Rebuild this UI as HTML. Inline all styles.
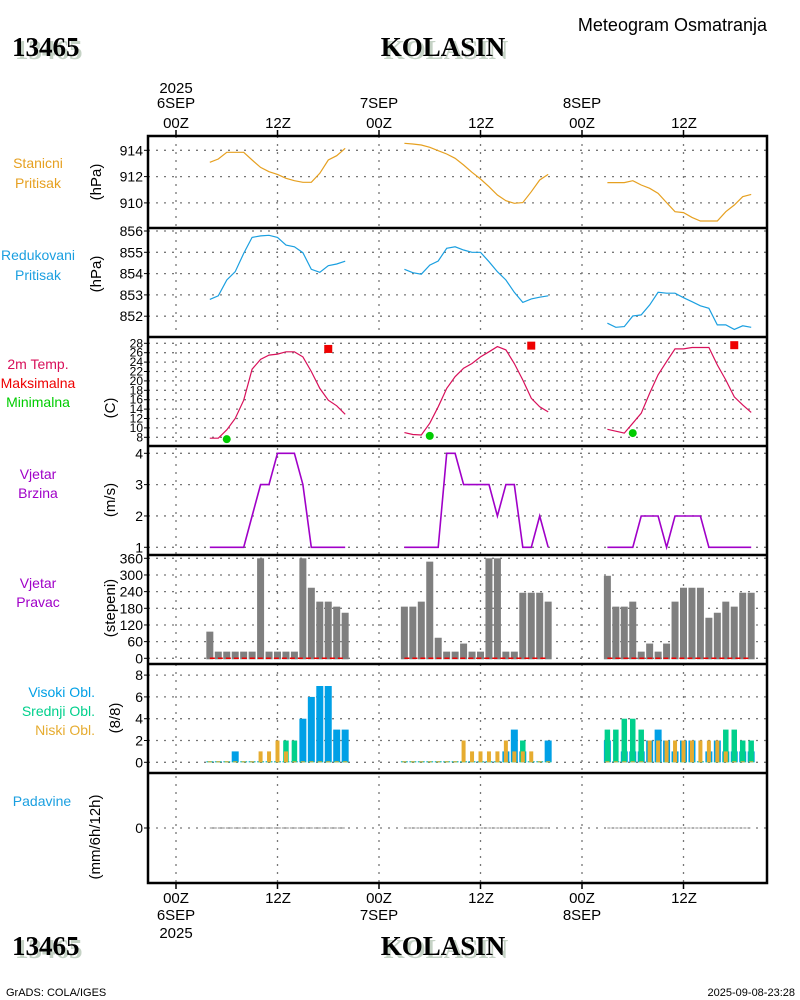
<!DOCTYPE html>
<html><head><meta charset="utf-8"><style>
body{margin:0;background:#fff;}
svg{display:block;font-family:"Liberation Sans",sans-serif;}
</style></head><body>
<svg id="c" width="800" height="1000" viewBox="0 0 800 1000" xmlns="http://www.w3.org/2000/svg">
<rect x="0" y="0" width="800" height="1000" fill="#fff"/>
<g id="g"></g>
</svg>
<script>
// ---- data (hours since 6SEP 00Z) ----
const dayHours = [[4,20],[27,44],[51,68]];
const presSt = [
 [913.09,913.34,913.85,913.85,913.85,913.26,912.70,912.37,912.17,911.87,911.69,911.57,911.57,912.25,913.26,913.59,914.15],
 [914.53,914.48,914.40,914.23,913.97,913.72,913.39,912.88,912.33,911.82,911.23,910.60,910.17,909.97,910.02,910.85,911.74,912.17],
 [911.54,911.54,911.54,911.69,911.36,911.11,910.73,910.02,909.33,909.26,908.90,908.62,908.62,908.62,909.33,909.84,910.47,910.65]];
const presRed = [
 [852.79,852.96,853.70,854.09,854.95,855.70,855.77,855.80,855.70,855.34,855.26,854.98,854.20,854.06,854.37,854.45,854.58],
 [854.20,854.04,853.97,854.40,854.59,855.19,855.26,855.11,855.00,855.00,854.56,854.09,853.70,853.12,852.65,852.81,852.89,852.96],
 [851.67,851.48,851.51,852.01,852.06,852.53,853.12,853.08,853.08,852.87,852.68,852.49,852.37,851.59,851.59,851.38,851.55,851.48]];
const temp = [
 [7.8,7.8,9.6,12.0,15.9,22.5,24.6,25.5,25.7,26.2,26.2,25.1,22.0,18.4,15.9,14.7,12.9],
 [9.0,8.6,8.5,11.0,14.5,18.4,20.9,22.7,23.7,25.1,26.2,27.3,26.6,23.7,20.2,16.3,14.5,13.4],
 [9.7,9.3,8.9,11.0,13.1,17.4,21.3,24.1,26.8,26.8,27.1,27.1,27.1,23.4,20.2,16.6,14.9,13.3]];
const tMaxHours = [18,42,66];
const tMaxVals = [26.8,27.5,27.6];
const tMinHours = [6,30,54];
const tMinVals = [7.6,8.3,8.9];
const windSpd = [
 [1,1,1,1,1,2,3,3,4,4,4,3,1,1,1,1,1],
 [1,1,1,1,1,4,4,3,3,3,3,2,3,3,1,1,2,1],
 [1,1,1,1,2,2,2,1,2,2,2,2,1,1,1,1,1,1]];
const windDir = [
 [96,24,24,24,24,24,360,24,24,24,24,360,254,204,204,186,164],
 [186,186,204,348,74,24,24,53,24,24,360,360,24,24,236,236,236,204],
 [297,186,186,204,24,53,24,53,204,254,254,254,146,164,204,186,236,236]];
const cloudHi = [
 [0,0,0,1,0,0,0,0,0,0,0,4,6,7,7,3,3],
 [0,0,0,0,0,0,0,0,0,0,0,0,1,3,1,0,0,2],
 [2,0,1,1,1,2,3,2,1,2,2,0,1,2,1,1,1,1]];
const cloudMid = [
 [0,0,0,0,0,0,0,0,0,2,2,0,0,0,0,0,0],
 [0,0,0,0,0,0,0,0,0,0,0,0,0,0,2,0,0,0],
 [3,3,4,4,3,0,0,0,0,0,0,0,0,0,3,3,2,2]];
const cloudLow = [
 [0,0,0,0,0,0,1,1,2,1,0,0,0,0,0,0,0],
 [0,0,0,0,0,0,0,2,1,1,1,1,2,1,1,1,0,0],
 [0,0,0,0,0,2,2,2,2,2,2,2,2,2,1,0,0,0]];
const precip = [
 [0,0,0,0,0,0,0,0,0,0,0,0,0,0,0,0,0],
 [0,0,0,0,0,0,0,0,0,0,0,0,0,0,0,0,0,0],
 [0,0,0,0,0,0,0,0,0,0,0,0,0,0,0,0,0,0]];
const ticksSt = [910,912,914];
const ticksRed = [852,853,854,855,856];
const ticksTemp = [8,10,12,14,16,18,20,22,24,26,28];
const ticksSpd = [1,2,3,4];
const ticksDir = [0,60,120,180,240,300,360];
const ticksCloud = [0,2,4,6,8];
const ticksPrec = [0];

// ---- axes ----
const X = h => 176 + h*(582-176)/48;
const ySt = v => 150.3 + (914-v)*13.15;
const yRed = v => 231 + (856-v)*21.3;
const yT = v => 343.3 + (28-v)*4.7;
const ySp = v => 453.3 + (4-v)*31.33;
const yDir = v => 658.3 - v*100/360;
const yCl = v => 762.3 - v*10.9;
const yPr = v => 828 - v*40;

const NS="http://www.w3.org/2000/svg";
const G=document.getElementById('g');
function mk(tag,attrs,parent){const e=document.createElementNS(NS,tag);for(const k in attrs)e.setAttribute(k,attrs[k]);(parent||G).appendChild(e);return e;}
function txt(s,x,y,attrs){const e=mk('text',Object.assign({x:x,y:y},attrs||{}));e.textContent=s;return e;}

const L=148,R=767,T=136,B=883;
const seps=[228,337,446,555,664,773];
// vertical dotted grid
[0,12,24,36,48,60].forEach(h=>{
 const l=mk('line',{x1:X(h),x2:X(h),y1:T,y2:B,stroke:'#777','stroke-width':1.3,'stroke-dasharray':'2,6'});
 
 
});
function hgrid(ticks,f,name,labelEvery){
 ticks.forEach((v,i)=>{
  const y=f(v);
  const l=mk('line',{x1:L,x2:R,y1:y,y2:y,stroke:'#777','stroke-width':1.3,'stroke-dasharray':'2,6'});
  
  
  mk('line',{x1:L-4,x2:L,y1:y,y2:y,stroke:'#000','stroke-width':1});
  const t=txt(String(v),143,y+5,{'text-anchor':'end','font-size':'14px',fill:'#000'});
  
  
  if(name==='temp') t.setAttribute('font-size','12px'), t.setAttribute('y',y+4);
 });
}
hgrid(ticksSt,ySt,'stanicni');
hgrid(ticksRed,yRed,'redukovani');
hgrid(ticksTemp,yT,'temp');
hgrid(ticksSpd,ySp,'wind-speed');
hgrid(ticksDir,yDir,'wind-dir');
hgrid(ticksCloud,yCl,'cloud');
hgrid(ticksPrec,yPr,'precip');

function hoursOf(d,n){const a=[];for(let i=0;i<n;i++)a.push(dayHours[d][0]+i);return a;}
function line(series,f,color,name,w){
 series.forEach((arr,d)=>{
  const hs=hoursOf(d,arr.length);
  const p=arr.map((v,i)=>X(hs[i]).toFixed(1)+','+f(v).toFixed(1)).join(' ');
  const e=mk('polyline',{points:p,fill:'none',stroke:color,'stroke-width':w||1.2});
  
  
 });
}
line(presSt,ySt,'#e6a020','stanicni-pritisak');
line(presRed,yRed,'#1a9fe0','redukovani-pritisak');
line(temp,yT,'#d8105a','temperature');
line(windSpd,ySp,'#a000c8','wind-speed',1.6);
tMaxHours.forEach((h,i)=>{
 const e=mk('rect',{x:X(h)-4,y:yT(tMaxVals[i])-4,width:8,height:8,fill:'#ee0000'});
 
 
});
tMinHours.forEach((h,i)=>{
 const e=mk('circle',{cx:X(h),cy:yT(tMinVals[i]),r:4,fill:'#00cc00'});
 
 
});
// wind direction bars
windDir.forEach((arr,d)=>{
 const hs=hoursOf(d,arr.length);
 arr.forEach((v,i)=>{
  const e=mk('rect',{x:X(hs[i])-3.5,y:yDir(v),width:7,height:yDir(0)-yDir(v)+1,fill:'#7f7f7f'});
  
  
 });
 const e=mk('line',{x1:X(hs[0]),x2:X(hs[hs.length-1]),y1:yDir(0),y2:yDir(0),stroke:'#ee0000','stroke-width':1.5,'stroke-dasharray':'5,3'});
 
 
});
// clouds
function cbars(series,color,w,name){
 series.forEach((arr,d)=>{
  const hs=hoursOf(d,arr.length);
  arr.forEach((v,i)=>{
   const hgt=Math.max(yCl(0)-yCl(v),1);
   const e=mk('rect',{x:X(hs[i])-w/2,y:yCl(0)-hgt,width:w,height:hgt,fill:color});
   
   
  });
 });
}
cbars(cloudHi,'#00a0e6',7,'visoki-cloud');
cbars(cloudMid,'#00d08c',5.5,'srednji-cloud');
cbars(cloudLow,'#e6ac30',4,'niski-cloud');
// precipitation
precip.forEach((arr,d)=>{
 const hs=hoursOf(d,arr.length);
 const p=arr.map((v,i)=>X(hs[i]).toFixed(1)+','+yPr(v).toFixed(1)).join(' ');
 const e=mk('polyline',{points:p,fill:'none',stroke:'#888','stroke-width':1,'stroke-dasharray':'3,1'});
 
 
});
// frame
const fr=mk('rect',{x:L,y:T,width:R-L,height:B-T,fill:'none',stroke:'#000','stroke-width':2.5});


seps.forEach(y=>{
 const e=mk('line',{x1:L,x2:R,y1:y,y2:y,stroke:'#000','stroke-width':2.5});
 
 
});
[0,12,24,36,48,60].forEach(h=>{
 mk('line',{x1:X(h),x2:X(h),y1:T-6,y2:T,stroke:'#000','stroke-width':1.5});
 mk('line',{x1:X(h),x2:X(h),y1:B,y2:B+6,stroke:'#000','stroke-width':1.5});
});
</script>
<script>
(function(){
const NS="http://www.w3.org/2000/svg";const G=document.getElementById('g');
function t(s,x,y,o,name){const e=document.createElementNS(NS,'text');e.setAttribute('x',x);e.setAttribute('y',y);for(const k in o)e.setAttribute(k,o[k]);e.textContent=s;G.appendChild(e);
 
 
 return e;}
const mid={'text-anchor':'middle','font-size':'15px',fill:'#000'};
// top time labels
t('2025',176,93,mid,'top-year-label');t('6SEP',176,108,mid,'top-date-label');t('00Z',176,128,mid,'top-time-label');
t('7SEP',379,108,mid,'top-date-label');t('00Z',379,128,mid,'top-time-label');
t('8SEP',582,108,mid,'top-date-label');t('00Z',582,128,mid,'top-time-label');
t('12Z',278,128,mid,'top-time-label');t('12Z',481,128,mid,'top-time-label');t('12Z',684,128,mid,'top-time-label');
// bottom
t('00Z',176,903,mid,'bottom-time-label');t('6SEP',176,920,mid,'bottom-date-label');t('2025',176,938,mid,'bottom-year-label');
t('00Z',379,903,mid,'bottom-time-label');t('7SEP',379,920,mid,'bottom-date-label');
t('00Z',582,903,mid,'bottom-time-label');t('8SEP',582,920,mid,'bottom-date-label');
t('12Z',278,903,mid,'bottom-time-label');t('12Z',481,903,mid,'bottom-time-label');t('12Z',684,903,mid,'bottom-time-label');
// titles
const big={'font-family':'"Liberation Serif",serif','font-weight':'bold','font-size':'27px'};
[[12,56,'start','station-id'],[443,56,'middle','station-name'],[12,955,'start','station-id-bottom'],[443,955,'middle','station-name-bottom']].forEach(a=>{
 const s=a[3].indexOf('id')>=0?'13465':'KOLASIN';
 t(s,a[0]+3,a[1]+3,Object.assign({'text-anchor':a[2],fill:'#c5d2c5'},big),a[3]+'-shadow');
 t(s,a[0],a[1],Object.assign({'text-anchor':a[2],fill:'#000'},big),a[3]);
});
t('Meteogram Osmatranja',767,31,{'text-anchor':'end','font-size':'18px',fill:'#000'},'chart-subtitle');
t('GrADS: COLA/IGES',6,996,{'font-size':'11px',fill:'#000'},'footer-credit');
t('2025-09-08-23:28',795,996,{'text-anchor':'end','font-size':'11px',fill:'#000'},'footer-timestamp');
// left legends
const lg=(s,y,c,n)=>t(s,38,y,{'text-anchor':'middle','font-size':'14px',fill:c},n);
lg('Stanicni',168,'#e6a020','stanicni-label');lg('Pritisak',188,'#e6a020','stanicni-label');
lg('Redukovani',260,'#1a9fe0','redukovani-label');lg('Pritisak',280,'#1a9fe0','redukovani-label');
lg('2m Temp.',369,'#d8105a','temp-label');lg('Maksimalna',388,'#ee0000','tmax-label');lg('Minimalna',407,'#00cc00','tmin-label');
lg('Vjetar',479,'#a000c8','wind-speed-label');lg('Brzina',498,'#a000c8','wind-speed-label');
lg('Vjetar',588,'#a000c8','wind-dir-label');lg('Pravac',607,'#a000c8','wind-dir-label');
t('Visoki Obl.',95,697,{'text-anchor':'end','font-size':'14px',fill:'#00a0e6'},'visoki-legend');
t('Srednji Obl.',95,716,{'text-anchor':'end','font-size':'14px',fill:'#00d08c'},'srednji-legend');
t('Niski Obl.',95,735,{'text-anchor':'end','font-size':'14px',fill:'#e6ac30'},'niski-legend');
t('Padavine',42,806,{'text-anchor':'middle','font-size':'14px',fill:'#1a9fe0'},'padavine-label');
// unit labels rotated
const rot=(s,x,y,n)=>{const e=t(s,x,y,{'text-anchor':'middle','font-size':'15px',fill:'#000',transform:'rotate(-90 '+x+' '+y+')'},n);};
rot('(hPa)',101,182,'stanicni-unit');rot('(hPa)',101,274,'redukovani-unit');
rot('(C)',115,408,'temp-unit');rot('(m/s)',115,500,'wind-speed-unit');
rot('(stepeni)',115,608,'wind-dir-unit');rot('(8/8)',120,718,'cloud-unit');
rot('(mm/6h/12h)',100,837,'precip-unit');
})();
</script>
</body></html>
